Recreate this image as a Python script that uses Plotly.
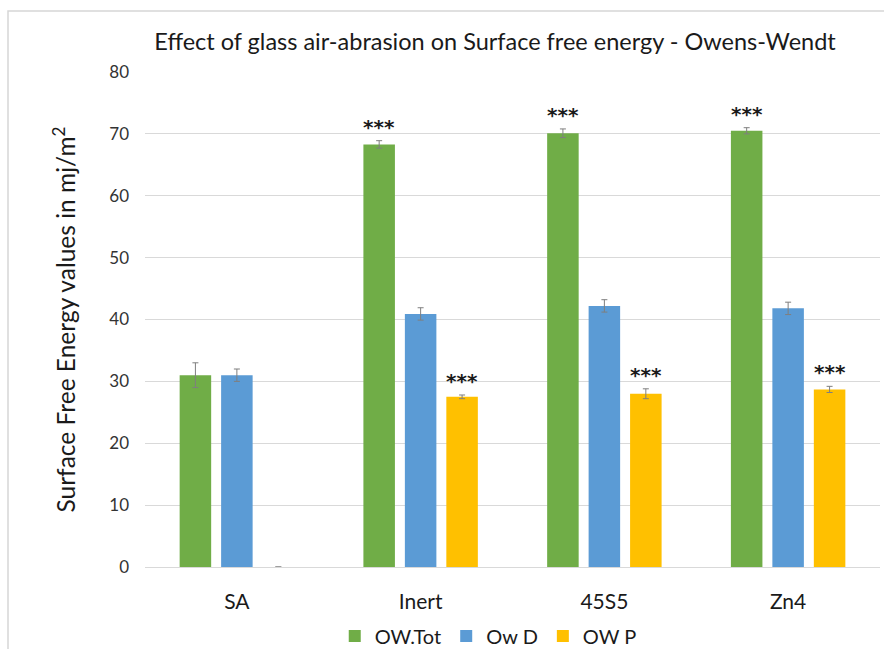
import plotly.graph_objects as go

categories = ["SA", "Inert", "45S5", "Zn4"]
series_names = ["OW.Tot", "Ow D", "OW P"]
ow_tot = [31.0, 68.3, 70.1, 70.5]
ow_tot_err = [2.0, 0.6, 0.7, 0.5]
ow_d = [31.0, 40.9, 42.2, 41.8]
ow_d_err = [1.0, 1.0, 1.0, 1.0]
ow_p = [0.0, 27.5, 28.0, 28.7]
ow_p_err = [0.0, 0.3, 0.8, 0.5]
colors = ["#70AD47", "#5B9BD5", "#FFC000"]

# significance markers: (category, series index)
signif = [("Inert", 0), ("45S5", 0), ("Zn4", 0), ("Inert", 2), ("45S5", 2), ("Zn4", 2)]

FONT = "Lato"
values = [ow_tot, ow_d, ow_p]
errors = [ow_tot_err, ow_d_err, ow_p_err]

fig = go.Figure()
for name, vals, errs, col in zip(series_names, values, errors, colors):
    fig.add_trace(go.Bar(
        x=categories, y=vals, name=name,
        marker=dict(color=col, line=dict(width=0)),
        error_y=dict(type="data", array=errs, visible=True,
                     color="#7f7f7f", thickness=1, width=3),
    ))

slot_px = 41.5
annotations = []
for cat, si in signif:
    i = categories.index(cat)
    annotations.append(dict(
        x=cat, xref="x", y=values[si][i] + errors[si][i], yref="y",
        text="<b>***</b>", showarrow=False, yanchor="bottom",
        xshift=(si - 1) * slot_px, yshift=0,
        font=dict(family="DejaVu Sans", size=20, color="#1a1a1a"),
    ))

fig.update_layout(
    width=884, height=649,
    margin=dict(l=145, r=4, t=72, b=82, autoexpand=False),
    paper_bgcolor="white", plot_bgcolor="white",
    barmode="group", bargap=0.323, bargroupgap=0.24,
    title=dict(text="Effect of glass air-abrasion on Surface free energy - Owens-Wendt",
               x=0.56, xanchor="center", y=0.935, yanchor="middle",
               font=dict(family=FONT, size=23.5, color="#1a1a1a")),
    xaxis=dict(showgrid=False, showline=False, ticks="", ticklabelstandoff=20,
               automargin=False,
               tickfont=dict(family=FONT, size=21, color="#1a1a1a")),
    yaxis=dict(range=[0, 80], dtick=10, showgrid=True, gridcolor="#d9d9d9",
               gridwidth=1, zeroline=True, zerolinecolor="#d9d9d9", zerolinewidth=1,
               showline=False, ticks="", ticklabelstandoff=15, automargin=False,
               tickfont=dict(family=FONT, size=17, color="#333333"),
               title=dict(text="Surface Free Energy values in mj/m<sup>2</sup>", standoff=26,
                          font=dict(family=FONT, size=24.5, color="#1a1a1a"))),
    legend=dict(orientation="h", x=0.467, xanchor="center",
                yref="container", y=0.02, yanchor="middle",
                font=dict(family=FONT, size=20, color="#1a1a1a"),
                itemwidth=30, traceorder="normal"),
    annotations=annotations,
    shapes=[dict(type="rect", xref="paper", yref="paper",
                 x0=-0.1864, x1=2, y0=-2, y1=1.1232,
                 line=dict(color="#d6d6d6", width=1.5), fillcolor="rgba(0,0,0,0)",
                 layer="below")],
)

fig.write_html("out.html")
